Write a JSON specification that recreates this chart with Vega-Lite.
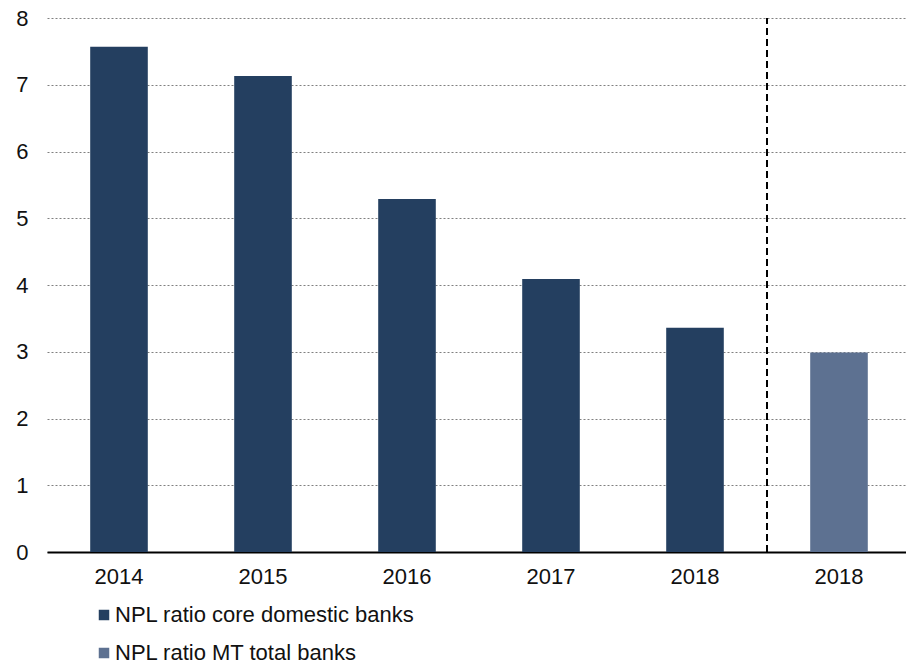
{
  "$schema": "https://vega.github.io/schema/vega-lite/v6.json",
  "width": 864,
  "height": 534,
  "autosize": "none",
  "padding": {"left": 47, "top": 18, "right": 0, "bottom": 112},
  "config": {
    "view": {"stroke": null},
    "font": "Liberation Sans",
    "axis": {"labelFont": "Liberation Sans", "labelFontSize": 22, "labelColor": "#111111"},
    "legend": {"labelFont": "Liberation Sans", "labelFontSize": 22, "labelColor": "#111111"}
  },
  "data": {
    "values": [
      {"cat": "a2014", "label": "2014", "series": "NPL ratio core domestic banks", "value": 7.57},
      {"cat": "a2015", "label": "2015", "series": "NPL ratio core domestic banks", "value": 7.13},
      {"cat": "a2016", "label": "2016", "series": "NPL ratio core domestic banks", "value": 5.29},
      {"cat": "a2017", "label": "2017", "series": "NPL ratio core domestic banks", "value": 4.09},
      {"cat": "a2018", "label": "2018", "series": "NPL ratio core domestic banks", "value": 3.36},
      {"cat": "b2018", "label": "2018", "series": "NPL ratio MT total banks", "value": 2.99}
    ]
  },
  "layer": [
    {
      "mark": {"type": "bar", "width": {"band": 0.4}},
      "encoding": {
        "x": {
          "field": "cat",
          "type": "nominal",
          "sort": null,
          "scale": {"paddingInner": 0, "paddingOuter": 0},
          "axis": {
            "title": null,
            "labelExpr": "slice(datum.value, 1)",
            "labelAngle": 0,
            "ticks": false,
            "domainColor": "#000000",
            "domainWidth": 2,
            "labelPadding": 14
          }
        },
        "y": {
          "field": "value",
          "type": "quantitative",
          "scale": {"domain": [0, 8]},
          "axis": {
            "title": null,
            "tickCount": 8,
            "domain": false,
            "ticks": false,
            "labelPadding": 19,
            "gridColor": "#808080",
            "gridDash": [2, 2],
            "gridWidth": 1
          }
        },
        "color": {
          "field": "series",
          "type": "nominal",
          "scale": {
            "domain": ["NPL ratio core domestic banks", "NPL ratio MT total banks"],
            "range": ["#243f60", "#5d7191"]
          },
          "legend": {
            "title": null,
            "orient": "none",
            "legendX": 46,
            "legendY": 586,
            "symbolType": "square",
            "symbolSize": 110,
            "symbolStrokeWidth": 0,
            "rowPadding": 16,
            "labelOffset": 0,
            "labelLimit": 0
          }
        }
      }
    },
    {
      "data": {"values": [{"cat": "b2018"}]},
      "mark": {"type": "rule", "strokeDash": [7, 4], "strokeWidth": 2, "color": "#000000"},
      "encoding": {
        "x": {"field": "cat", "type": "nominal", "bandPosition": 0},
        "y": {"datum": 0},
        "y2": {"datum": 8}
      }
    }
  ]
}
